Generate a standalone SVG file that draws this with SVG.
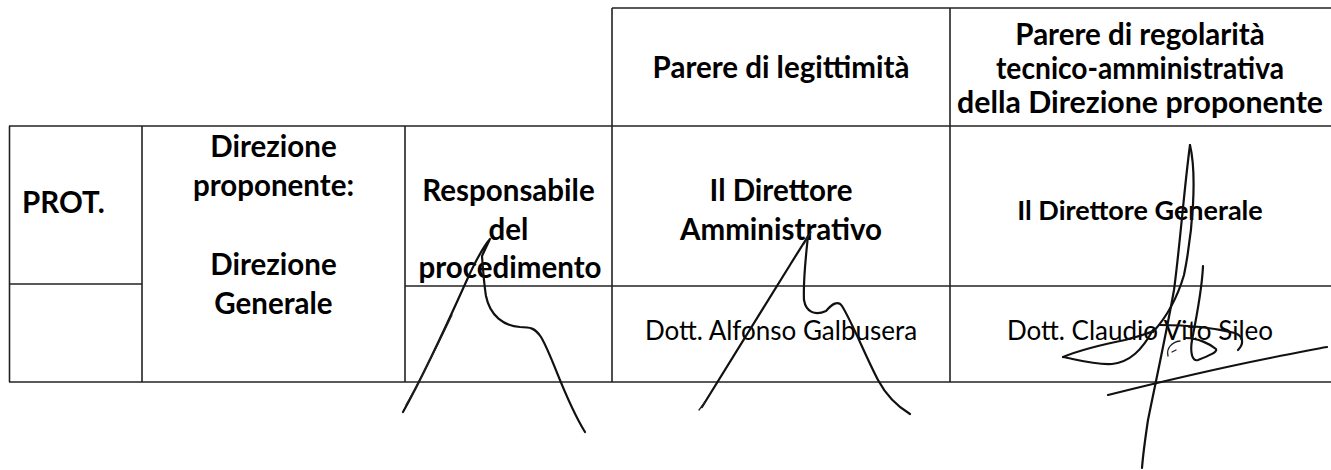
<svg xmlns="http://www.w3.org/2000/svg" width="1331" height="470" viewBox="0 0 1331 470">
<style>
.ln{stroke:#222;stroke-width:1.6;fill:none}
.b{font-family:Lato,"Open Sans","Liberation Sans",sans-serif;font-weight:700;font-size:29.5px;fill:#000}
.bs{font-family:Lato,"Open Sans","Liberation Sans",sans-serif;font-weight:700;font-size:27px;fill:#000}
.r{font-family:Lato,"Open Sans","Liberation Sans",sans-serif;font-weight:400;font-size:26px;fill:#000}
.sig{stroke:#111;stroke-width:2.2;fill:none;stroke-linecap:round;stroke-linejoin:round}
.sigt{stroke:#222;stroke-width:1.3;fill:none;stroke-linecap:round}
</style>
<rect width="1331" height="470" fill="#fff"/>
<g id="grid">
<line class="ln" x1="612" y1="8" x2="1331" y2="8"/>
<line class="ln" x1="9" y1="126" x2="1331" y2="126"/>
<line class="ln" x1="9" y1="284" x2="142" y2="284"/>
<line class="ln" x1="405" y1="286" x2="1331" y2="286"/>
<line class="ln" x1="9" y1="382" x2="1331" y2="382"/>
<line class="ln" x1="9.5" y1="126" x2="9.5" y2="382"/>
<line class="ln" x1="142" y1="126" x2="142" y2="382"/>
<line class="ln" x1="405" y1="126" x2="405" y2="382"/>
<line class="ln" x1="612" y1="8" x2="612" y2="382"/>
<line class="ln" x1="950" y1="8" x2="950" y2="382"/>
</g>
<g id="h-legittimita"><text class="b" x="781" y="78" text-anchor="middle">Parere di legittimità</text></g>
<g id="h-regolarita">
<text class="b" x="1140" y="45" text-anchor="middle">Parere di regolarità</text>
<text class="b" x="1140" y="79" text-anchor="middle" textLength="288" lengthAdjust="spacingAndGlyphs">tecnico-amministrativa</text>
<text class="b" x="1140" y="113" text-anchor="middle" textLength="366" lengthAdjust="spacingAndGlyphs">della Direzione proponente</text>
</g>
<g id="prot"><text class="b" x="22" y="213">PROT.</text></g>
<g id="direzione">
<text class="b" x="273.5" y="157" text-anchor="middle">Direzione</text>
<text class="b" x="273.5" y="196" text-anchor="middle">proponente:</text>
<text class="b" x="273.5" y="275" text-anchor="middle">Direzione</text>
<text class="b" x="273.5" y="314" text-anchor="middle">Generale</text>
</g>
<g id="responsabile">
<text class="b" x="508.5" y="201" text-anchor="middle">Responsabile</text>
<text class="b" x="508.5" y="240" text-anchor="middle">del</text>
<text class="b" x="510" y="278" text-anchor="middle">procedimento</text>
</g>
<g id="dir-amm">
<text class="b" x="781" y="201" text-anchor="middle">Il Direttore</text>
<text class="b" x="781" y="240" text-anchor="middle">Amministrativo</text>
<text class="r" x="781" y="340" text-anchor="middle">Dott. Alfonso Galbusera</text>
</g>
<g id="dir-gen">
<text class="bs" x="1140" y="220" text-anchor="middle">Il Direttore Generale</text>
<text class="r" x="1140" y="340" text-anchor="middle">Dott. Claudio Vito Sileo</text>
</g>
<g id="signatures">
<path class="sig" d="M403,412 C422,378 448,322 466,282 C475,262 484,246 490,239 L482,256 C483,270 484,284 486,296 C490,316 504,326 520,327 C530,327 535,328 541,337 C553,357 564,398 585,432"/>
<path class="sigt" d="M406,405 C425,372 440,340 452,315"/>
<path class="sig" d="M702,407 C725,370 765,305 790,265 C798,252 804,243 808,236 C806,255 803,280 804,300 C806,312 815,316 826,311 C832,304 838,300 842,306 C852,322 865,355 878,380 C886,395 895,405 910,414"/>
<path class="sigt" d="M699,410 L705,402 M804,244 L811,232"/>
<path class="sig" d="M1190,145 C1184,190 1180,245 1174,290 C1166,335 1155,385 1148,420 C1145,440 1143,455 1142,468"/>
<path class="sig" d="M1190,145 C1197,175 1193,230 1184,275 C1176,302 1164,320 1153,332"/>
<path class="sig" d="M1063,357 C1080,350 1100,345 1125,340 C1140,336 1150,333 1155,330"/>
<path class="sig" d="M1063,357 C1078,360 1095,365 1112,364 C1130,362 1142,350 1153,330"/>
<path class="sig" d="M1203,266 C1202,290 1196,320 1192,340 C1190,352 1192,362 1198,360 C1208,356 1218,352 1216,349 C1210,344 1198,338 1186,338"/>
<path class="sig" d="M1160,325 C1185,325 1215,328 1235,333 C1245,337 1243,345 1238,350"/>
<path class="sig" d="M1108,395 C1160,382 1220,368 1270,358 C1295,353 1315,349 1327,347"/>
<path class="sigt" d="M1168,356 C1166,348 1172,342 1180,341 M1172,352 L1176,350"/>
</g>
</svg>
